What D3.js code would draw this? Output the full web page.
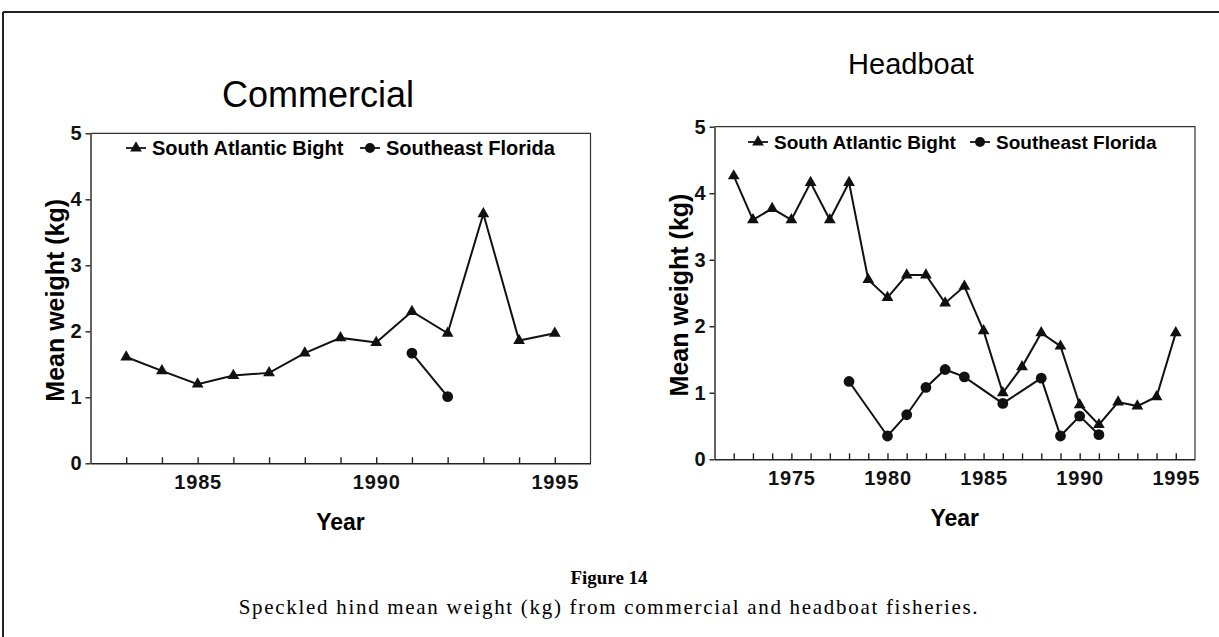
<!DOCTYPE html>
<html>
<head>
<meta charset="utf-8">
<script src="https://cdn.jsdelivr.net/npm/d3@7"></script>
<style>
  body { margin: 0; background: #fff; }
  svg { display: block; }
  .axis text { font-family: "Liberation Sans", Arial, sans-serif; font-weight: bold; font-size: 20px; letter-spacing: 0.8px; fill: #111; }
  .axis path, .axis line { stroke: #222; stroke-width: 1.4; }
</style>
</head>
<body>
<svg id="fig" width="1219" height="637"></svg>
<script>
// Commercial panel data
const commYears = [1983, 1984, 1985, 1986, 1987, 1988, 1989, 1990, 1991, 1992, 1993, 1994, 1995];
const commSAB = [1.61, 1.40, 1.20, 1.33, 1.37, 1.67, 1.90, 1.83, 2.30, 1.97, 3.78, 1.86, 1.97];
const commSEFYears = [1991, 1992];
const commSEF = [1.67, 1.01];
const commTickLabels = [1985, 1990, 1995];

// Headboat panel data
const headYears = [1972, 1973, 1974, 1975, 1976, 1977, 1978, 1979, 1980, 1981, 1982, 1983,
                   1984, 1985, 1986, 1987, 1988, 1989, 1990, 1991, 1992, 1993, 1994, 1995];
const headSAB = [4.26, 3.60, 3.77, 3.60, 4.16, 3.60, 4.16, 2.70, 2.43, 2.77, 2.77, 2.35,
                 2.60, 1.93, 1.00, 1.39, 1.90, 1.70, 0.82, 0.52, 0.86, 0.80, 0.94, 1.90];
const headSEFYears = [1978, 1980, 1981, 1982, 1983, 1984, 1986, 1988, 1989, 1990, 1991];
const headSEF = [1.17, 0.35, 0.67, 1.08, 1.35, 1.24, 0.84, 1.22, 0.35, 0.65, 0.37];
const headTickLabels = [1975, 1980, 1985, 1990, 1995];

const yTicks = [0, 1, 2, 3, 4, 5];
const seriesNames = ["South Atlantic Bight", "Southeast Florida"];

const svg = d3.select("#fig");
const sans = '"Liberation Sans", Arial, sans-serif';

// outer figure border (top and left)
svg.append("line").attr("x1", 3).attr("y1", 12).attr("x2", 1219).attr("y2", 12)
  .attr("stroke", "#222").attr("stroke-width", 2);
svg.append("line").attr("x1", 3).attr("y1", 12).attr("x2", 3).attr("y2", 637)
  .attr("stroke", "#222").attr("stroke-width", 2);

const tri = d3.symbol().type(d3.symbolTriangle).size(60);

function drawPanel(p) {
  const x = d3.scaleLinear().domain(p.xDomain).range([p.left, p.right]);
  const y = d3.scaleLinear().domain([0, 5]).range([p.bottom, p.top]);
  const g = svg.append("g");

  // frame (top and right sides)
  g.append("path")
    .attr("d", `M${p.left},${p.top}H${p.right}V${p.bottom}`)
    .attr("fill", "none").attr("stroke", "#333").attr("stroke-width", 1.2);

  const allYears = d3.range(p.xDomain[0] + 1, p.xDomain[1]);
  g.append("g").attr("class", "axis")
    .attr("transform", `translate(0,${p.bottom})`)
    .call(d3.axisBottom(x).tickValues(allYears).tickSizeInner(-6).tickSizeOuter(0).tickPadding(12)
      .tickFormat(d => p.tickLabels.includes(d) ? d : ""));

  g.append("g").attr("class", "axis")
    .attr("transform", `translate(${p.left},0)`)
    .call(d3.axisLeft(y).tickValues(yTicks).tickSizeInner(5).tickSizeOuter(0).tickPadding(3)
      .tickFormat(d3.format("d")));

  // titles
  g.append("text").attr("x", p.titleX).attr("y", p.titleY)
    .attr("text-anchor", "middle").attr("font-family", sans).attr("font-size", p.titleSize)
    .text(p.title);
  g.append("text").attr("x", (p.left + p.right) / 2).attr("y", p.bottom + 67)
    .attr("text-anchor", "middle").attr("font-family", sans).attr("font-weight", "bold")
    .attr("font-size", 23).text("Year");
  g.append("text")
    .attr("transform", `translate(${p.left - 36},${(p.top + p.bottom) / 2 + 2}) rotate(-90)`)
    .attr("dy", "0.36em")
    .attr("text-anchor", "middle").attr("font-family", sans).attr("font-weight", "bold")
    .attr("font-size", 25).text("Mean weight (kg)");

  const line = d3.line().x(d => x(d[0])).y(d => y(d[1]));
  const sab = p.sabYears.map((yr, i) => [yr, p.sab[i]]);
  const sef = p.sefYears.map((yr, i) => [yr, p.sef[i]]);

  g.append("path").datum(sab).attr("d", line)
    .attr("fill", "none").attr("stroke", "#111").attr("stroke-width", 2);
  g.append("path").datum(sef).attr("d", line)
    .attr("fill", "none").attr("stroke", "#111").attr("stroke-width", 2);

  g.selectAll(".tri").data(sab).enter().append("path")
    .attr("transform", d => `translate(${x(d[0])},${y(d[1])})`)
    .attr("d", tri).attr("fill", "#111");
  g.selectAll(".dot").data(sef).enter().append("circle")
    .attr("cx", d => x(d[0])).attr("cy", d => y(d[1])).attr("r", 5.4).attr("fill", "#111");

  // legend
  const lg = g.append("g").attr("transform", `translate(${p.legendX},${p.legendY})`);
  lg.append("line").attr("x1", 0).attr("x2", 20).attr("stroke", "#111").attr("stroke-width", 1.8);
  lg.append("path").attr("transform", "translate(10,0)").attr("d", tri).attr("fill", "#111");
  lg.append("text").attr("x", 26).attr("dy", "0.36em").attr("font-family", sans)
    .attr("font-weight", "bold").attr("font-size", p.legendSize).text(seriesNames[0]);
  lg.append("line").attr("x1", p.legendGap).attr("x2", p.legendGap + 20)
    .attr("stroke", "#111").attr("stroke-width", 1.8);
  lg.append("circle").attr("cx", p.legendGap + 10).attr("r", 5).attr("fill", "#111");
  lg.append("text").attr("x", p.legendGap + 26).attr("dy", "0.36em").attr("font-family", sans)
    .attr("font-weight", "bold").attr("font-size", p.legendSize).text(seriesNames[1]);
}

drawPanel({
  title: "Commercial", titleX: 318, titleY: 107, titleSize: 36,
  xDomain: [1982, 1996], left: 90.5, right: 590.5, top: 133.3, bottom: 463.3,
  sabYears: commYears, sab: commSAB, sefYears: commSEFYears, sef: commSEF,
  tickLabels: commTickLabels, legendX: 126, legendY: 148, legendGap: 234, legendSize: 20
});

drawPanel({
  title: "Headboat", titleX: 911, titleY: 74, titleSize: 29,
  xDomain: [1971, 1996], left: 714.5, right: 1195, top: 126.7, bottom: 459.3,
  sabYears: headYears, sab: headSAB, sefYears: headSEFYears, sef: headSEF,
  tickLabels: headTickLabels, legendX: 748, legendY: 142, legendGap: 222, legendSize: 19
});

// caption
svg.append("text").attr("x", 609).attr("y", 584).attr("text-anchor", "middle")
  .attr("font-family", '"Liberation Serif", "Times New Roman", serif').attr("font-weight", "bold")
  .attr("font-size", 19).text("Figure 14");
svg.append("text").attr("x", 609).attr("y", 614).attr("text-anchor", "middle")
  .attr("font-family", '"Liberation Serif", "Times New Roman", serif')
  .attr("font-size", 21).attr("letter-spacing", 1.7)
  .text("Speckled hind mean weight (kg) from commercial and headboat fisheries.");
</script>
</body>
</html>
